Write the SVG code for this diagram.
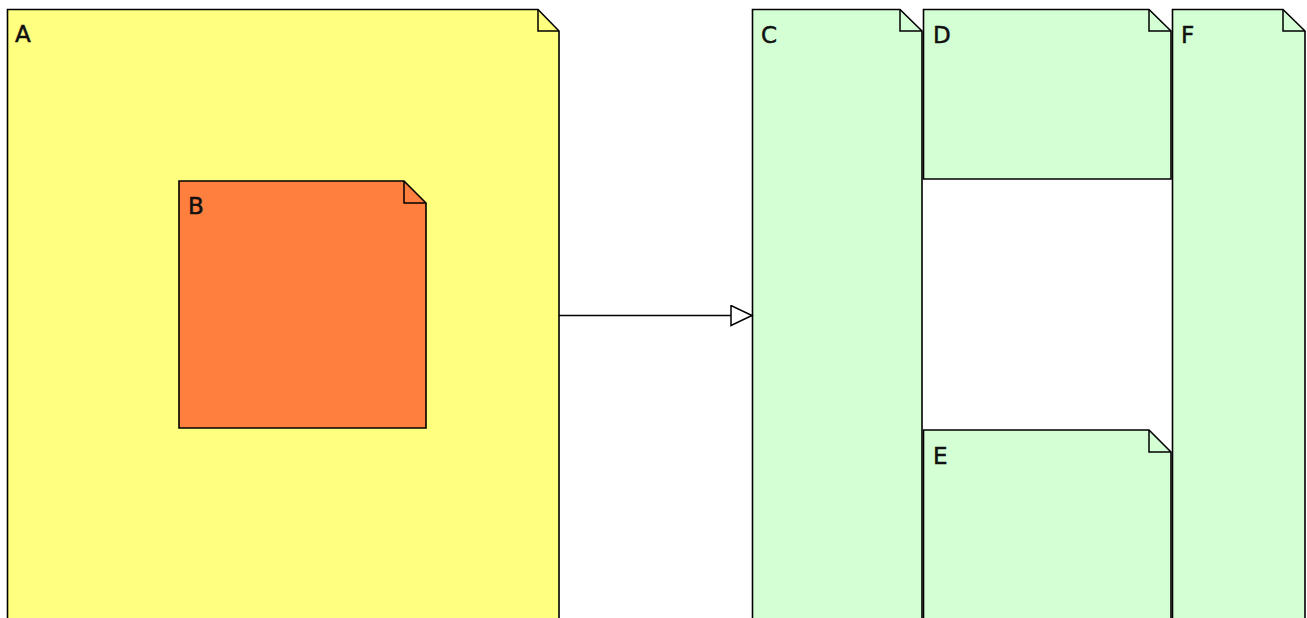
<svg xmlns="http://www.w3.org/2000/svg" width="1307" height="618" viewBox="0 0 1307 618">
<style>
.n{stroke:#000;stroke-width:1.6;stroke-linejoin:miter}
.y{fill:#FFFF80}.o{fill:#FF7F3F}.g{fill:#D4FFD4}
.f{fill:none;stroke:#000;stroke-width:1.5}
.t{font-family:"DejaVu Sans",sans-serif;font-size:23px;fill:#111;stroke:#111;stroke-width:0.5}
</style>
<defs>
<marker id="tri" markerWidth="24" markerHeight="24" refX="22" refY="11" orient="auto" markerUnits="userSpaceOnUse">
<path d="M1,1 L22,11 L1,21 Z" fill="#fff" stroke="#000" stroke-width="1.5"/>
</marker>
</defs>
<g id="A">
<path class="n y" d="M7.5,9.5 H538 L559,31 V630 H7.5 Z"/>
<path class="f" d="M538,9.5 V31 H559"/>
<text class="t" x="15" y="42">A</text>
</g>
<g id="B">
<path class="n o" d="M179,181 H404 L426,203 V428 H179 Z"/>
<path class="f" d="M404,181 V203 H426"/>
<text class="t" x="188" y="214">B</text>
</g>
<g id="C">
<path class="n g" d="M752.5,9.5 H900 L922,31 V630 H752.5 Z"/>
<path class="f" d="M900,9.5 V31 H922"/>
<text class="t" x="761" y="43">C</text>
</g>
<g id="D">
<path class="n g" d="M923.5,9.5 H1149 L1171,31 V179 H923.5 Z"/>
<path class="f" d="M1149,9.5 V31 H1171"/>
<text class="t" x="933" y="43">D</text>
</g>
<g id="E">
<path class="n g" d="M923.5,430 H1149 L1171,452 V630 H923.5 Z"/>
<path class="f" d="M1149,430 V452 H1171"/>
<text class="t" x="933" y="464">E</text>
</g>
<g id="F">
<path class="n g" d="M1172.5,9.5 H1283 L1305,31 V630 H1172.5 Z"/>
<path class="f" d="M1283,9.5 V31 H1305"/>
<text class="t" x="1181" y="43">F</text>
</g>
<g id="connectors">
<path d="M559,315.5 H752" fill="none" stroke="#000" stroke-width="1.5" marker-end="url(#tri)"/>
</g>
</svg>
